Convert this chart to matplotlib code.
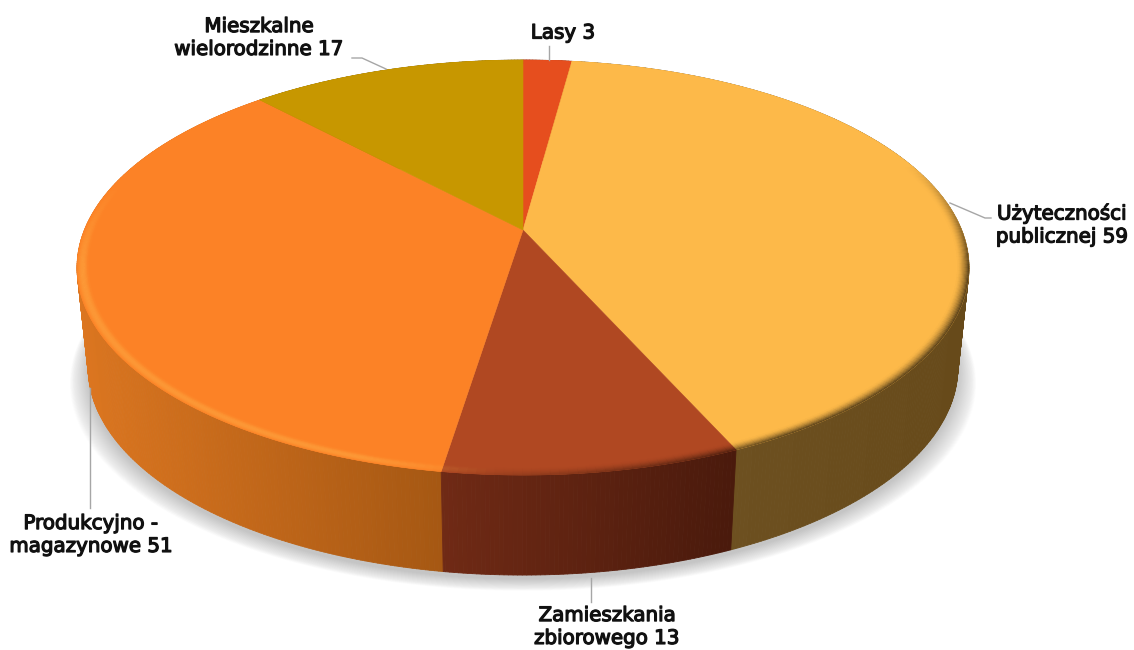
import numpy as np
import matplotlib
matplotlib.use("Agg")
import matplotlib.pyplot as plt
import matplotlib.patheffects as pe
from matplotlib.colors import to_rgb
from matplotlib.patches import Polygon
from matplotlib.collections import PolyCollection

# slices in clockwise order, starting from 12 o'clock
names = ["Lasy 3", "Użyteczności\npublicznej 59", "Zamieszkania\nzbiorowego 13",
         "Produkcyjno -\nmagazynowe 51", "Mieszkalne\nwielorodzinne 17"]
values = [3, 59, 13, 51, 17]
top_colors = ["#e64e1e", "#fdb949", "#b04822", "#fc8226", "#c79700"]
side_left = ["#7a2b10", "#6d5020", "#702a15", "#dc7620", "#6e5400"]
side_right = ["#7a2b10", "#674a1a", "#4a1a0c", "#a65813", "#6e5400"]

# pie position in pixels and perspective
cx, cy = 523, 230
ax_x, ax_y, persp = 438.6, 200.7, 0.181
depth, shrink = 100, 0.975

# leader lines and label places
label_xy = [(563, 33), (1062, 225), (607, 627), (91, 535), (259, 38)]
leaders = [[(549, 46), (549, 60)],
           [(950, 203), (985, 218), (991, 218)],
           [(591, 578), (591, 602)],
           [(90, 388), (90, 508)],
           [(352, 58), (362, 58), (386, 69)]]


def top_xy(a, r=1.0):
    # a is degrees clockwise from the top of the pie
    t = np.radians(a)
    X, Y = r * np.sin(t), r * np.cos(t)
    w = 1 + persp * Y
    return cx + ax_x * X / w, cy - ax_y * Y / w


def bottom_xy(a):
    x, y = top_xy(a)
    return cx + shrink * (x - cx), y + depth


def mix(c1, c2, w):
    c1, c2 = np.array(to_rgb(c1)), np.array(to_rgb(c2))
    return tuple(c1 * (1 - w) + c2 * w)


fig = plt.figure(figsize=(11.34, 6.5), dpi=100)
ax = fig.add_axes([0, 0, 1, 1])
ax.set_xlim(0, 1134)
ax.set_ylim(650, 0)
ax.axis("off")

ends = np.cumsum(values) / np.sum(values) * 360
starts = np.concatenate([[0], ends[:-1]])

# soft shadow under the pie
ring = np.arange(0, 360.5, 2)
bx, by = bottom_xy(ring)
for grow in np.linspace(1.042, 1.0, 26):
    ax.add_patch(Polygon(np.c_[cx + grow * (bx - cx), by + 4 + (grow - 1) * 280],
                         fc="#707070", ec="none", alpha=0.016, zorder=1))

# side wall, back to front
quads, cols, order = [], [], []
for i in range(len(values)):
    aa = np.arange(starts[i], ends[i], 0.5)
    aa = np.append(aa, ends[i])
    xs = bottom_xy(aa)[0]
    front = np.cos(np.radians(aa)) < 0.2
    lo, hi = (xs[front].min(), xs[front].max()) if front.any() else (0, 1)
    for a0, a1 in zip(aa[:-1], aa[1:]):
        x0, y0 = top_xy(a0)
        x1, y1 = top_xy(a1)
        x2, y2 = bottom_xy(a1)
        x3, y3 = bottom_xy(a0)
        t = np.clip((x3 - lo) / (hi - lo), 0, 1)
        quads.append([(x0, y0), (x1, y1), (x2, y2), (x3, y3)])
        cols.append(mix(side_left[i], side_right[i], t))
        order.append(-np.cos(np.radians(a0)))
idx = np.argsort(order)
ax.add_collection(PolyCollection([quads[j] for j in idx], facecolors=[cols[j] for j in idx],
                                 edgecolors=[cols[j] for j in idx], linewidths=0.6, zorder=2))

# top face
for i in range(len(values)):
    aa = np.arange(starts[i], ends[i], 0.5)
    aa = np.append(aa, ends[i])
    x, y = top_xy(aa)
    pts = np.vstack([[cx, cy], np.c_[x, y]])
    ax.add_patch(Polygon(pts, fc=top_colors[i], ec=top_colors[i], lw=0.4, zorder=3))

# bevel along the rim: dark on the right, light on the left
bevel_q, bevel_c = [], []
steps = np.linspace(1.0, 0.975, 11)
for i in range(len(values)):
    aa = np.arange(starts[i], ends[i], 1.0)
    aa = np.append(aa, ends[i])
    dark = mix(top_colors[i], "#000000", 0.65)
    light = mix(top_colors[i], "#ffd060", 0.3)
    for a0, a1 in zip(aa[:-1], aa[1:]):
        am = (a0 + a1) / 2
        wd = np.clip((190 - am) / 40, 0, 1) * np.clip((am - 70) / 30, 0, 1)
        wl = np.clip((am - 183) / 15, 0, 1) * np.clip((285 - am) / 25, 0, 1)
        for k, (r0, r1) in enumerate(zip(steps[:-1], steps[1:])):
            f = (1 - k / (len(steps) - 1)) ** 1.6
            g = np.sin(np.pi * (k + 0.5) / (len(steps) - 1))
            c = mix(top_colors[i], dark, wd * f)
            c = mix(c, light, wl * g)
            bevel_q.append([top_xy(a0, r0), top_xy(a1, r0), top_xy(a1, r1), top_xy(a0, r1)])
            bevel_c.append(c)
ax.add_collection(PolyCollection(bevel_q, facecolors=bevel_c, edgecolors=bevel_c,
                                 linewidths=0.3, zorder=4))

for i in range(len(names)):
    xs, ys = zip(*leaders[i])
    ax.plot(xs, ys, color="#a6a6a6", lw=1.0, zorder=5)
    ax.text(label_xy[i][0], label_xy[i][1], names[i], ha="center", va="center",
            fontsize=14.3, family="DejaVu Sans", color="#111111", linespacing=1.26, zorder=6,
            path_effects=[pe.withStroke(linewidth=0.9, foreground="#111111")])

fig.savefig("out.png", dpi=100)
